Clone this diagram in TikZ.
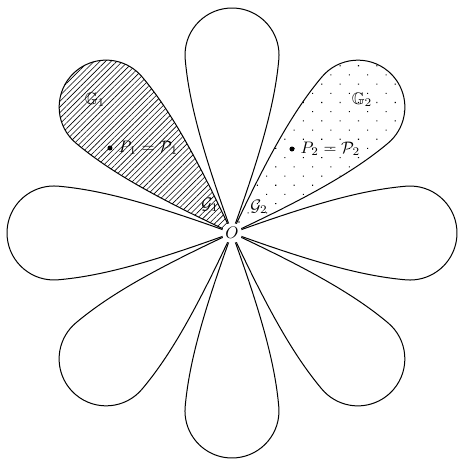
\documentclass[tikz,border=0pt]{standalone}
\usepackage{amsmath}
\usepackage{amssymb}
\usepackage{tikz}
\usetikzlibrary{patterns.meta,positioning}

% one petal along the positive x axis, tip at O
\newcommand{\petalpath}{(0,0) .. controls (80,29) and (130,43) .. (173.9,46.8)
  arc[start angle=95, end angle=-95, radius=47]
  .. controls (130,-43) and (80,-29) .. (0,0)}

\begin{document}
\begin{tikzpicture}[
  x=0.6pt, y=0.6pt,
  petal/.style={draw=black, line width=0.6pt, line join=round},
  hatched/.style={petal, pattern={Lines[angle=45,distance=2.4pt,line width=0.35pt]}},
  dotted region/.style={petal, pattern={Dots[angle=45,distance=7.8pt,radius=0.45pt]}},
  point/.style={circle, fill=black, inner sep=0pt, minimum size=3pt},
  centre/.style={circle, fill=white, inner sep=0.6pt},
]
  \useasboundingbox (-232,-228) rectangle (227,233);

  % Plain petals.
  \foreach \a in {0,90,180,225,270,315}
    \draw[petal, rotate=\a] \petalpath;

  % The two marked petals.
  \draw[hatched, rotate=135] \petalpath;
  \draw[dotted region, rotate=45] \petalpath;

  % Labels in the hatched petal.
  \node (bbG1) at (-137,133) {$\mathbb{G}_1$};
  \node[point] (p1) at (-122,85) {};
  \node[right=0pt of p1] (p1label) {$P_1 = \mathcal{P}_1$};
  \node (calG1) at (-22,28) {$\mathcal{G}_1$};

  % Labels in the dotted petal.
  \node (bbG2) at (130,133) {$\mathbb{G}_2$};
  \node[point] (p2) at (60,84) {};
  \node[right=0pt of p2] (p2label) {$P_2 = \mathcal{P}_2$};
  \node (calG2) at (27,26) {$\mathcal{G}_2$};

  % Common tip.
  \node[centre] (O) at (0,0) {$O$};
\end{tikzpicture}
\end{document}
